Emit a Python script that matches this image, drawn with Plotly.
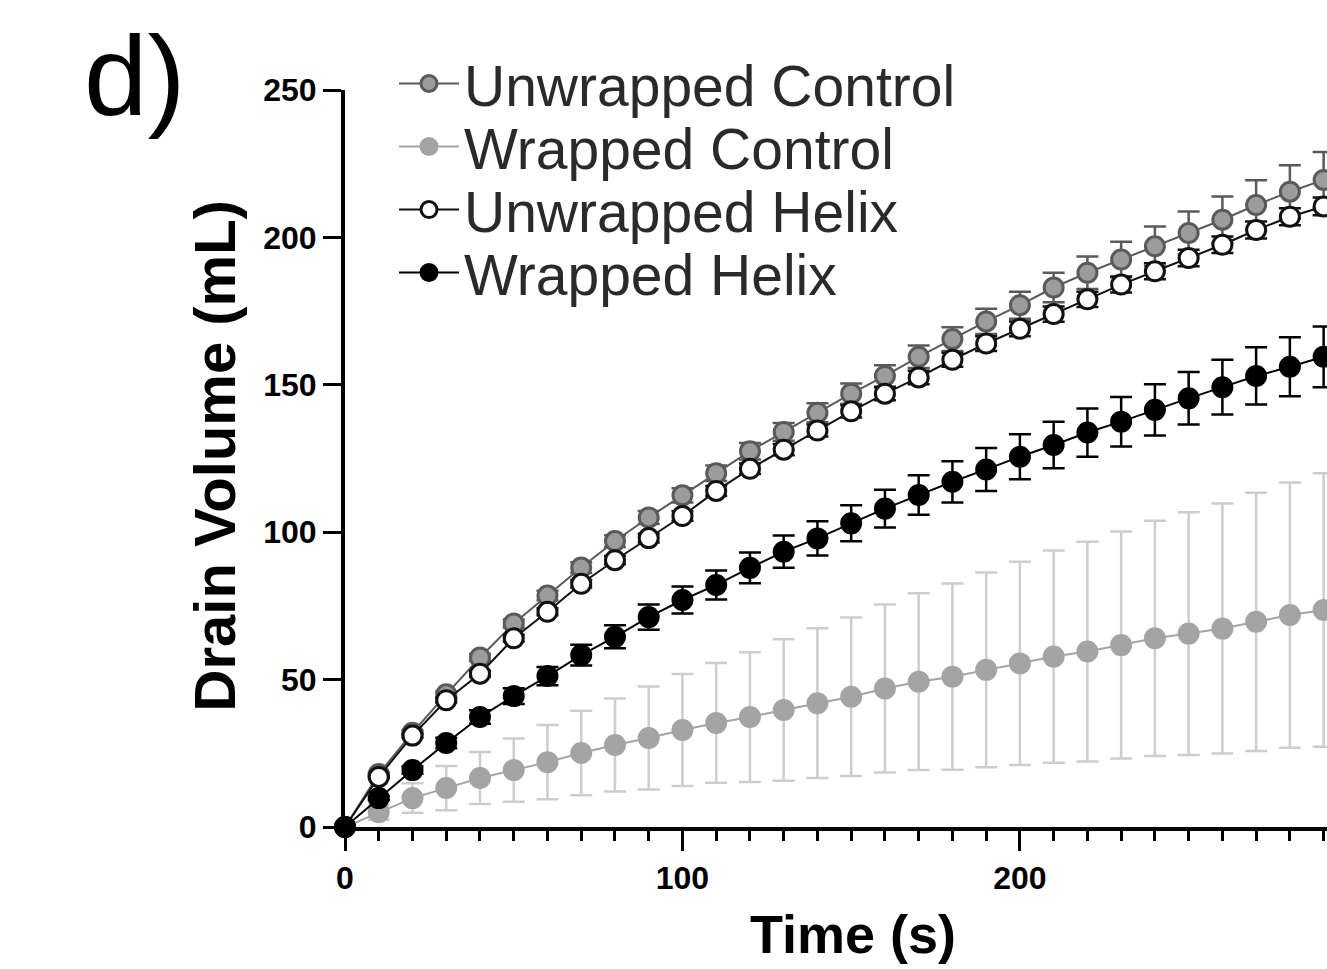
import plotly.graph_objects as go

# ---- data ----
time_s = [0, 10, 20, 30, 40, 50, 60, 70, 80, 90, 100, 110, 120, 130, 140,
          150, 160, 170, 180, 190, 200, 210, 220, 230, 240, 250, 260, 270, 280, 290]

unwrapped_control = [0, 18, 32, 45, 57.5, 69, 78.5, 88, 97, 105, 112.5, 120, 127.5, 134, 140.5,
                     147, 153, 159.5, 165.5, 171.5, 177, 183, 188, 192.5, 197, 201.5, 206, 211, 215.5, 219.5]
unwrapped_control_sd = [0, 0.5, 0.8, 1.0, 1.2, 1.4, 1.6, 1.8, 2.0, 2.2, 2.4, 2.6, 2.8, 3.0, 3.2,
                        3.4, 3.6, 3.8, 4.0, 4.3, 4.6, 5.0, 5.5, 6.0, 6.7, 7.3, 7.9, 8.4, 9.0, 9.5]

wrapped_control = [0, 5, 9.8, 13.2, 16.6, 19.3, 22, 25.1, 27.8, 30.2, 32.9, 35.3, 37.3, 39.7, 42,
                   44.2, 47, 49.3, 51, 53.3, 55.5, 57.8, 59.5, 61.7, 64, 65.6, 67.3, 69.6, 71.9, 73.6]
wrapped_control_sd = [0, 2.5, 5, 7.5, 8.8, 10.7, 12.6, 14.3, 15.8, 17.5, 19, 20.3, 22, 24, 25.4,
                      26.9, 28.5, 30, 31.6, 33, 34.5, 36, 37.3, 38.5, 39.9, 41.2, 42.4, 43.8, 45, 46.4]

unwrapped_helix = [0, 17, 31, 43, 52, 64, 73, 82.5, 90.5, 98, 105.5, 114, 121.5, 128, 134.5,
                   141, 147, 152.5, 158.5, 164, 169, 174, 179, 184, 188.5, 193, 197.5, 202.5, 207, 210.5]
unwrapped_helix_sd = [0, 0.4, 0.6, 0.8, 1.0, 1.1, 1.2, 1.3, 1.4, 1.5, 1.6, 1.7, 1.8, 1.9, 2.0,
                      2.1, 2.2, 2.3, 2.4, 2.5, 2.5, 2.6, 2.6, 2.7, 2.7, 2.8, 2.8, 2.9, 2.9, 3.0]

wrapped_helix = [0, 9.8, 19.3, 28.5, 37.3, 44.4, 51.2, 58.3, 64.5, 71.2, 77, 82.1, 87.9, 93.4, 97.9,
                 103, 108, 112.6, 117.1, 121.3, 125.6, 129.6, 133.8, 137.5, 141.5, 145.4, 149.2, 153, 156.1, 159.5]
wrapped_helix_sd = [0, 0.6, 1.2, 1.8, 2.3, 2.7, 3.1, 3.5, 3.9, 4.3, 4.6, 4.9, 5.2, 5.5, 5.8,
                    6.1, 6.4, 6.7, 7.0, 7.3, 7.6, 7.9, 8.2, 8.4, 8.7, 8.9, 9.3, 9.7, 10.0, 10.3]

x_ticks = [0, 100, 200]
y_ticks = [0, 50, 100, 150, 200, 250]

FONT = "Liberation Sans, Arial, sans-serif"

fig = go.Figure()

series = [
    # name, y, sd, marker fill, marker edge, line colour, errorbar colour, legend id
    ("Wrapped Control", wrapped_control, wrapped_control_sd, "#a4a4a4", "#a4a4a4", "#a4a4a4", "#cdcdcd", "legend2"),
    ("Unwrapped Control", unwrapped_control, unwrapped_control_sd, "#9c9c9c", "#5a5a5a", "#5a5a5a", "#5a5a5a", "legend"),
    ("Unwrapped Helix", unwrapped_helix, unwrapped_helix_sd, "#ffffff", "#111111", "#111111", "#111111", "legend3"),
    ("Wrapped Helix", wrapped_helix, wrapped_helix_sd, "#000000", "#000000", "#000000", "#000000", "legend4"),
]

for name, y, sd, fill, edge, lc, ec, leg in series:
    fig.add_trace(go.Scatter(
        x=time_s, y=y, name=name, mode="lines+markers",
        line=dict(color=lc, width=2),
        marker=dict(symbol="circle", size=19, color=fill, line=dict(color=edge, width=3)),
        error_y=dict(type="data", array=sd, visible=True, color=ec, thickness=2.5, width=11),
        cliponaxis=False, legend=leg,
    ))

legend_style = dict(
    xanchor="left", yanchor="middle",
    font=dict(family=FONT, size=57, color="#2a2a2a"),
    bgcolor="rgba(0,0,0,0)", itemwidth=60,
)
legend_x = 0.0499

fig.update_layout(
    width=1327, height=969,
    margin=dict(l=345, r=0, t=90, b=142, pad=0),
    paper_bgcolor="white", plot_bgcolor="white",
    font=dict(family=FONT, color="black"),
    showlegend=True,
    legend=dict(x=legend_x, y=1.0082, **legend_style),
    legend2=dict(x=legend_x, y=0.9227, **legend_style),
    legend3=dict(x=legend_x, y=0.8372, **legend_style),
    legend4=dict(x=legend_x, y=0.7517, **legend_style),
    xaxis=dict(
        range=[0, 291], tickvals=x_ticks, ticks="outside", ticklen=20, tickwidth=3,
        tickcolor="black", showline=True, linewidth=4, linecolor="black",
        showgrid=False, zeroline=False,
        tickfont=dict(family=FONT, size=32, color="black", weight="bold"),
        ticklabelstandoff=0,
        minor=dict(dtick=10, ticks="outside", ticklen=10, tickwidth=3, tickcolor="black", showgrid=False),
    ),
    yaxis=dict(
        range=[0, 250], tickvals=y_ticks, ticks="outside", ticklen=18, tickwidth=3,
        tickcolor="black", showline=True, linewidth=4, linecolor="black",
        showgrid=False, zeroline=False,
        tickfont=dict(family=FONT, size=32, color="black", weight="bold"),
    ),
    annotations=[
        dict(text="Drain Volume (mL)", xref="paper", yref="paper", x=-0.1333, y=0.503,
             xanchor="center", yanchor="middle", textangle=-90, showarrow=False,
             font=dict(family=FONT, size=58, color="black", weight="bold")),
        dict(text="Time (s)", xref="paper", yref="paper", x=0.517, y=-0.145,
             xanchor="center", yanchor="middle", showarrow=False,
             font=dict(family=FONT, size=54, color="black", weight="bold")),
        dict(text="d)", xref="paper", yref="paper", x=-0.268, y=1.02,
             xanchor="left", yanchor="middle", showarrow=False,
             font=dict(family=FONT, size=114, color="black")),
    ],
)

fig.write_html(
    "out.html",
    config={"displayModeBar": False},
    post_script="document.body.style.margin='0';document.body.style.overflow='hidden';",
)
